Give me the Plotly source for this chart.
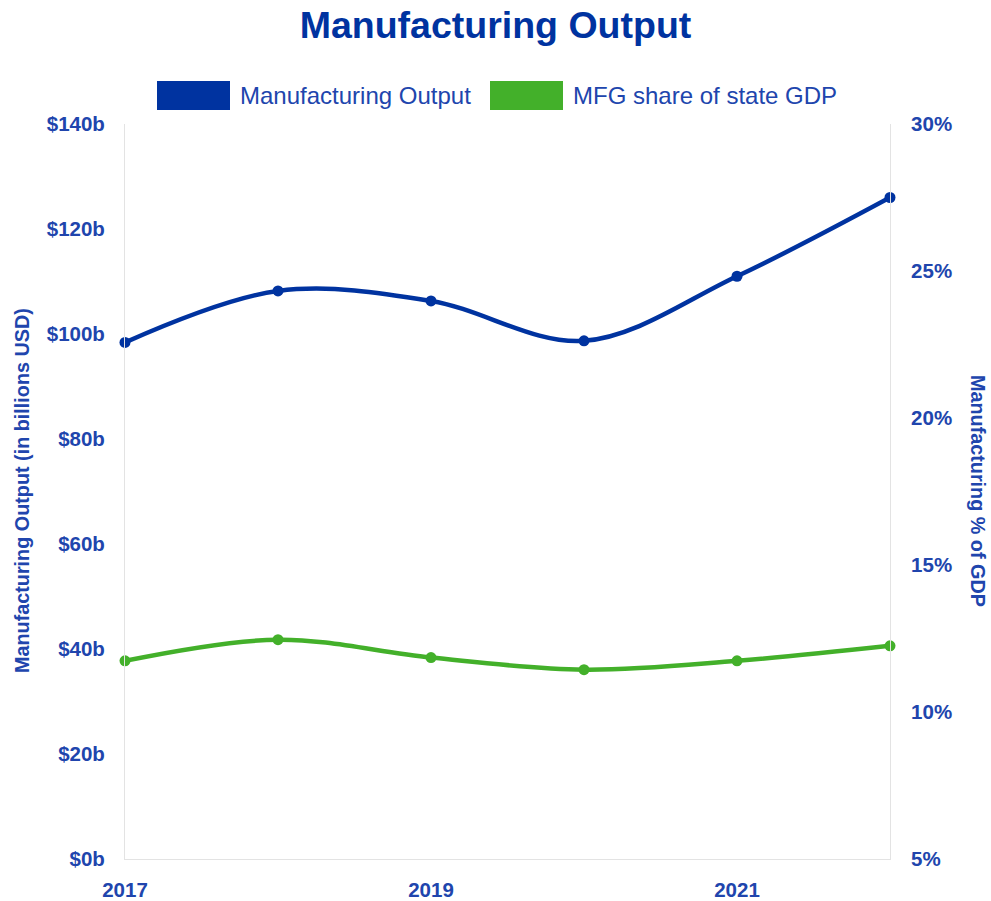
import plotly.graph_objects as go

# Annual manufacturing figures
years = [2017, 2018, 2019, 2020, 2021, 2022]
output_billions = [98.4, 108.2, 106.3, 98.7, 111.0, 126.0]
mfg_share_pct = [11.74, 12.46, 11.85, 11.44, 11.74, 12.25]

left_ticks = [0, 20, 40, 60, 80, 100, 120, 140]
left_labels = [f"${v}b" for v in left_ticks]
right_ticks = [5, 10, 15, 20, 25, 30]
right_labels = [f"{v}%" for v in right_ticks]
x_ticks = [2017, 2019, 2021]

series_names = ["Manufacturing Output", "MFG share of state GDP"]

BLUE = "#0033A0"
GREEN = "#43B02A"
TEXT = "#2045AD"
AXIS_LINE = "#e3e3e3"
FONT = "Liberation Sans, Arial, sans-serif"

W, H = 991, 901
L, R, T, B = 125, 101, 124, 42
plot_w = W - L - R
plot_h = H - T - B

fig = go.Figure()

fig.add_trace(go.Scatter(
    x=years, y=output_billions, name=series_names[0],
    mode="lines+markers",
    line=dict(color=BLUE, width=4.5, shape="spline", smoothing=1.0),
    marker=dict(color=BLUE, size=11),
    cliponaxis=False, showlegend=False, yaxis="y",
))
fig.add_trace(go.Scatter(
    x=years, y=mfg_share_pct, name=series_names[1],
    mode="lines+markers",
    line=dict(color=GREEN, width=4.5, shape="spline", smoothing=1.0),
    marker=dict(color=GREEN, size=11),
    cliponaxis=False, showlegend=False, yaxis="y2",
))

tick_font = dict(family=FONT, size=20.5, color=TEXT, weight="bold")

fig.update_layout(
    width=W, height=H,
    margin=dict(l=L, r=R, t=T, b=B),
    paper_bgcolor="white", plot_bgcolor="white",
    title=dict(
        text="<b>Manufacturing Output</b>",
        font=dict(family=FONT, size=37.5, color=BLUE),
        x=0.5, xanchor="center", xref="container",
        y=1 - 25 / H, yanchor="middle", yref="container",
    ),
    xaxis=dict(
        range=[2017, 2022], tickvals=x_ticks, ticktext=[str(v) for v in x_ticks],
        showgrid=False, zeroline=False, showline=True, linecolor=AXIS_LINE, linewidth=1,
        ticks="", tickfont=tick_font, ticklabelstandoff=12, automargin=False,
    ),
    yaxis=dict(
        range=[0, 140], tickvals=left_ticks, ticktext=left_labels,
        showgrid=False, zeroline=False, showline=True, linecolor=AXIS_LINE, linewidth=1,
        ticks="", tickfont=tick_font, ticklabelstandoff=15, automargin=False,
    ),
    yaxis2=dict(
        range=[5, 30], tickvals=right_ticks, ticktext=right_labels,
        overlaying="y", side="right",
        showgrid=False, zeroline=False, showline=True, linecolor=AXIS_LINE, linewidth=1,
        ticks="", tickfont=tick_font, ticklabelstandoff=16, automargin=False,
    ),
    showlegend=False,
)

# Axis titles
fig.add_annotation(
    text="<b>Manufacturing Output (in billions USD)</b>",
    xref="paper", yref="paper", x=(22 - L) / plot_w, y=(H - B - 491) / plot_h,
    xanchor="center", yanchor="middle", textangle=-90, showarrow=False,
    font=dict(family=FONT, size=19.8, color=TEXT),
)
fig.add_annotation(
    text="<b>Manufacturing % of GDP</b>",
    xref="paper", yref="paper", x=(978 - L) / plot_w, y=(H - B - 491) / plot_h,
    xanchor="center", yanchor="middle", textangle=90, showarrow=False,
    font=dict(family=FONT, size=19.8, color=TEXT),
)

# Legend: colour boxes with series names
legend_items = [(157, BLUE, series_names[0]), (490, GREEN, series_names[1])]
for x0, color, label in legend_items:
    fig.add_shape(
        type="rect", xref="paper", yref="paper",
        x0=(x0 - L) / plot_w, x1=(x0 + 73 - L) / plot_w,
        y0=(H - B - 110) / plot_h, y1=(H - B - 81) / plot_h,
        fillcolor=color, line=dict(width=0),
    )
    fig.add_annotation(
        text=label, xref="paper", yref="paper",
        x=(x0 + 81 - L) / plot_w, y=(H - B - 96) / plot_h,
        xanchor="left", yanchor="middle", showarrow=False,
        font=dict(family=FONT, size=24, color=TEXT),
    )

fig.write_html("out.html")
